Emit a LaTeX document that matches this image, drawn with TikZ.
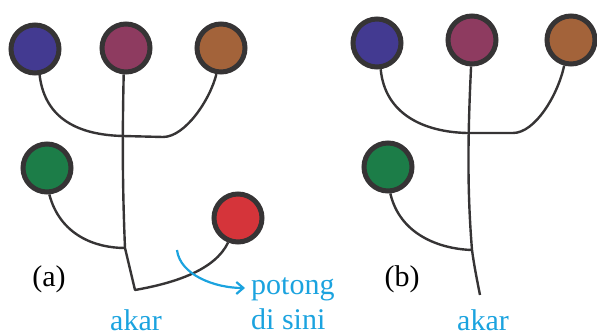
\documentclass[tikz,border=0pt]{standalone}
\usepackage{fontspec}
\setmainfont{Liberation Serif}
\usetikzlibrary{arrows.meta}
\definecolor{ringgray}{HTML}{363435}
\definecolor{cblue}{HTML}{433A91}
\definecolor{cmag}{HTML}{8E3B60}
\definecolor{cbrown}{HTML}{A3633A}
\definecolor{cgreen}{HTML}{1C7D48}
\definecolor{cred}{HTML}{D5343A}
\definecolor{skyblue}{HTML}{1BA3DF}
\tikzset{
  leaf/.style={circle, draw=ringgray, line width=5pt, minimum size=48pt, inner sep=0pt},
  branch/.style={draw=ringgray, line width=2.4pt, line join=round},
  lbl/.style={font=\fontsize{30}{36}\selectfont, inner sep=0pt},
  cut/.style={draw=skyblue, line width=2.2pt, -{Straight Barb[length=7pt,width=12pt,line width=2.2pt]}}
}
\begin{document}
\begin{tikzpicture}[x=1pt,y=-1pt]
\useasboundingbox (0,0) rectangle (597,336);

% ---- tree (a) ----
\node[leaf, fill=cblue]  (blueA)  at (35,49)  {};
\node[leaf, fill=cmag]   (magA)   at (126,48) {};
\node[leaf, fill=cbrown] (brownA) at (221,48) {};
\node[leaf, fill=cgreen] (greenA) at (47,168) {};
\node[leaf, fill=cred]   (redA)   at (238,218) {};

\coordinate (jA1) at (123,136);
\coordinate (jA2) at (163,137);
\coordinate (jA3) at (125,248);
\coordinate (rootA) at (135,290);

\draw[branch] (blueA.-80) .. controls (45,120) and (80,135) .. (jA1) -- (jA2)
  .. controls (185,137) and (210,100) .. (brownA.-100);
\draw[branch] (magA.-95) .. controls (122,150) and (123,200) .. (jA3) -- (rootA)
  .. controls (175,283) and (215,270) .. (redA.-112);
\draw[branch] (greenA.-85) .. controls (60,235) and (95,248) .. (jA3);

% cut mark
\coordinate (cutS) at (177,250);
\coordinate (cutE) at (245,288);
\draw[cut] (cutS) .. controls (180,275) and (215,288) .. (cutE);

\node[lbl, anchor=base] (labA) at (49,287) {(a)};
\node[lbl, anchor=base, text=skyblue] (akarA) at (136,331) {akar};
\node[lbl, anchor=base west, text=skyblue] (pot) at (251,295) {potong};
\node[lbl, anchor=base west, text=skyblue] (sini) at (251,330) {di sini};

% ---- tree (b) ----
\node[leaf, fill=cblue]  (blueB)  at (377,43) {};
\node[leaf, fill=cmag]   (magB)   at (472,40) {};
\node[leaf, fill=cbrown] (brownB) at (571,40) {};
\node[leaf, fill=cgreen] (greenB) at (388,167) {};

\coordinate (jB1) at (467,133);
\coordinate (jB2) at (513,133);
\coordinate (jB3) at (472,250);
\coordinate (rootB) at (480,295);

\draw[branch] (blueB.-82) .. controls (385,115) and (425,132) .. (jB1) -- (jB2)
  .. controls (535,133) and (558,95) .. (brownB.-105);
\draw[branch] (magB.-92) .. controls (467,150) and (468,200) .. (jB3)
  .. controls (474,265) and (477,280) .. (rootB);
\draw[branch] (greenB.-85) .. controls (400,235) and (440,249) .. (jB3);

\node[lbl, anchor=base] (labB) at (402,287) {(b)};
\node[lbl, anchor=base, text=skyblue] (akarB) at (483,331) {akar};
\end{tikzpicture}
\end{document}
